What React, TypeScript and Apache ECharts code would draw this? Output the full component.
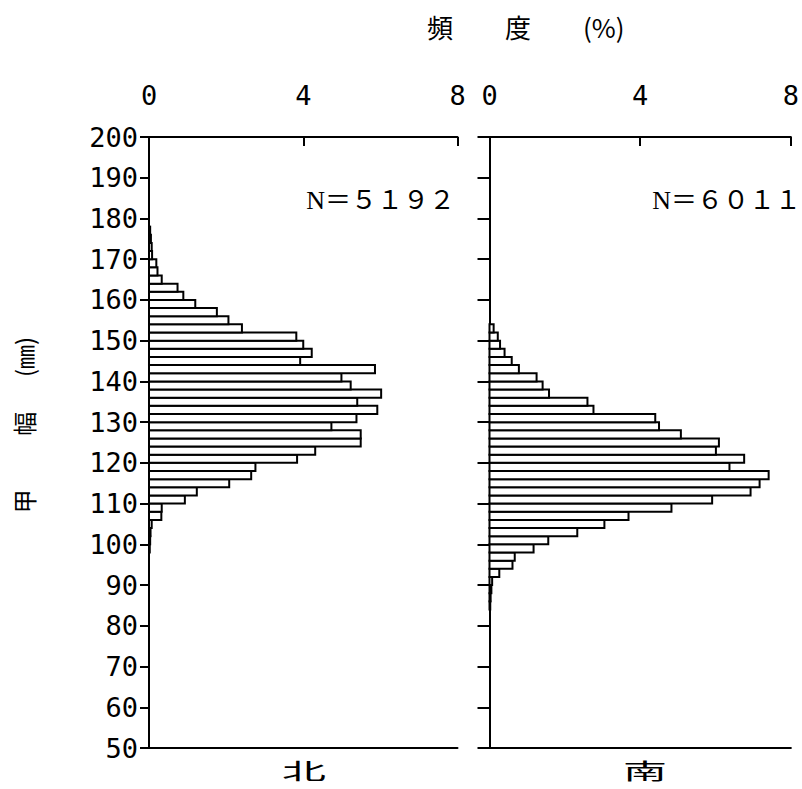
import React, { useEffect, useRef } from "react";
import * as echarts from "echarts";

// ---- data (carapace width bins, lower edge in mm; frequency in %) ----
const BIN_WIDTH = 2;

const northBins = [
  98, 100, 102, 104, 106, 108, 110, 112, 114, 116, 118, 120, 122, 124, 126, 128,
  130, 132, 134, 136, 138, 140, 142, 144, 146, 148, 150, 152, 154, 156, 158, 160,
  162, 164, 166, 168, 170, 172, 174, 176,
];
const northValues = [
  0.02, 0.03, 0.04, 0.07, 0.32, 0.33, 0.93, 1.24, 2.08, 2.65, 2.76, 3.84, 4.31, 5.49, 5.49, 4.73,
  5.38, 5.92, 5.4, 6.02, 5.23, 4.99, 5.86, 3.92, 4.22, 4.0, 3.82, 2.41, 2.06, 1.76, 1.2, 0.89,
  0.74, 0.33, 0.22, 0.19, 0.08, 0.07, 0.05, 0.03,
];

const southBins = [
  84, 86, 88, 90, 92, 94, 96, 98, 100, 102, 104, 106, 108, 110, 112, 114,
  116, 118, 120, 122, 124, 126, 128, 130, 132, 134, 136, 138, 140, 142, 144, 146,
  148, 150, 152,
];
const southValues = [
  0.02, 0.03, 0.05, 0.07, 0.26, 0.61, 0.67, 1.17, 1.56, 2.33, 3.05, 3.69, 4.83, 5.91, 6.93, 7.17,
  7.41, 6.37, 6.76, 6.01, 6.09, 5.08, 4.5, 4.4, 2.76, 2.6, 1.58, 1.41, 1.25, 0.78, 0.59, 0.4,
  0.28, 0.22, 0.11,
];

const panelNames = ["北", "南"];
const panelCounts = ["N＝５１９２", "N＝６０１１"];
const xMin = 0;
const xMax = 8;
const xInterval = 4;
const yMin = 50;
const yMax = 200;
const yInterval = 10;
const xTitle = "頻　　度　　(%)";
const yTitle = "甲　　 幅　  (㎜)";

const MONO = "DejaVu Sans Mono";
const CJK = "Noto Sans CJK JP";

function renderBar(params: any, api: any) {
  const lo = api.value(0);
  const v = api.value(1);
  const p0 = api.coord([0, lo]);
  const p1 = api.coord([v, lo + BIN_WIDTH]);
  return {
    type: "rect",
    shape: { x: p0[0], y: p1[1], width: p1[0] - p0[0], height: p0[1] - p1[1] },
    style: { fill: "#fff", stroke: "#000", lineWidth: 2 },
  };
}

function topAxis(gridIndex: number) {
  return {
    gridIndex,
    type: "value",
    position: "top",
    min: xMin,
    max: xMax,
    interval: xInterval,
    axisLine: { show: true, onZero: false, lineStyle: { color: "#000", width: 2 } },
    axisTick: { show: true, inside: true, length: 9, lineStyle: { color: "#000", width: 2 } },
    axisLabel: { show: true, margin: 28, fontSize: 27, fontFamily: MONO, color: "#000" },
    splitLine: { show: false },
  };
}

function bottomAxis(gridIndex: number) {
  return {
    gridIndex,
    type: "value",
    position: "bottom",
    min: xMin,
    max: xMax,
    interval: xInterval,
    axisLine: { show: true, onZero: false, lineStyle: { color: "#000", width: 2 } },
    axisTick: { show: false },
    axisLabel: { show: false },
    splitLine: { show: false },
  };
}

function leftAxis(gridIndex: number, showLabels: boolean, tickLen: number) {
  return {
    gridIndex,
    type: "value",
    min: yMin,
    max: yMax,
    interval: yInterval,
    axisLine: { show: true, onZero: false, lineStyle: { color: "#000", width: 2 } },
    axisTick: { show: true, inside: false, length: tickLen, lineStyle: { color: "#000", width: 2 } },
    axisLabel: {
      show: showLabels,
      margin: 11,
      fontSize: 27,
      fontFamily: MONO,
      color: "#000",
      showMinLabel: true,
      showMaxLabel: true,
    },
    splitLine: { show: false },
  };
}

export default function App() {
  const ref = useRef<HTMLDivElement>(null);

  useEffect(() => {
    if (!ref.current) return;
    const chart = echarts.init(ref.current, undefined, { renderer: "svg" });

    const northData = northBins.map((b, i) => [b, northValues[i]]);
    const southData = southBins.map((b, i) => [b, southValues[i]]);

    const option: any = {
      animation: false,
      backgroundColor: "#fff",
      grid: [
        { left: 149, top: 137, width: 308.5, height: 611 },
        { left: 489.5, top: 137, width: 310, height: 611 },
      ],
      xAxis: [topAxis(0), bottomAxis(0), topAxis(1), bottomAxis(1)],
      yAxis: [leftAxis(0, true, 9), leftAxis(1, false, 12)],
      series: [
        {
          type: "custom",
          name: panelNames[0],
          xAxisIndex: 0,
          yAxisIndex: 0,
          renderItem: renderBar,
          encode: { x: 1, y: 0 },
          data: northData,
        },
        {
          type: "custom",
          name: panelNames[1],
          xAxisIndex: 2,
          yAxisIndex: 1,
          renderItem: renderBar,
          encode: { x: 1, y: 0 },
          data: southData,
        },
      ],
      graphic: [
        {
          type: "text",
          x: 427,
          y: 26,
          style: { text: xTitle, fontSize: 26, fontFamily: CJK, fill: "#000", align: "left", verticalAlign: "middle" },
        },
        {
          type: "text",
          x: 23,
          y: 425,
          rotation: Math.PI / 2,
          style: { text: yTitle, fontSize: 24, fontFamily: CJK, fill: "#000", align: "center", verticalAlign: "middle" },
        },
        {
          type: "text",
          x: 455,
          y: 200,
          style: { text: panelCounts[0], fontSize: 26, fontFamily: "Liberation Serif, " + CJK, fill: "#000", align: "right", verticalAlign: "middle" },
        },
        {
          type: "text",
          x: 801,
          y: 200,
          style: { text: panelCounts[1], fontSize: 26, fontFamily: "Liberation Serif, " + CJK, fill: "#000", align: "right", verticalAlign: "middle" },
        },
        {
          type: "text",
          x: 304,
          y: 770,
          scaleX: 2,
          style: { text: panelNames[0], fontSize: 22, lineHeight: 22, fontFamily: CJK, fill: "#000", align: "center", verticalAlign: "middle" },
        },
        {
          type: "text",
          x: 645,
          y: 770,
          scaleX: 2,
          style: { text: panelNames[1], fontSize: 22, lineHeight: 22, fontFamily: CJK, fill: "#000", align: "center", verticalAlign: "middle" },
        },
      ],
    };

    chart.setOption(option);
    return () => chart.dispose();
  }, []);

  return (
    <div
      ref={ref}
      style={{ position: "absolute", left: 0, top: 0, width: 802, height: 789, background: "#fff" }}
    />
  );
}
